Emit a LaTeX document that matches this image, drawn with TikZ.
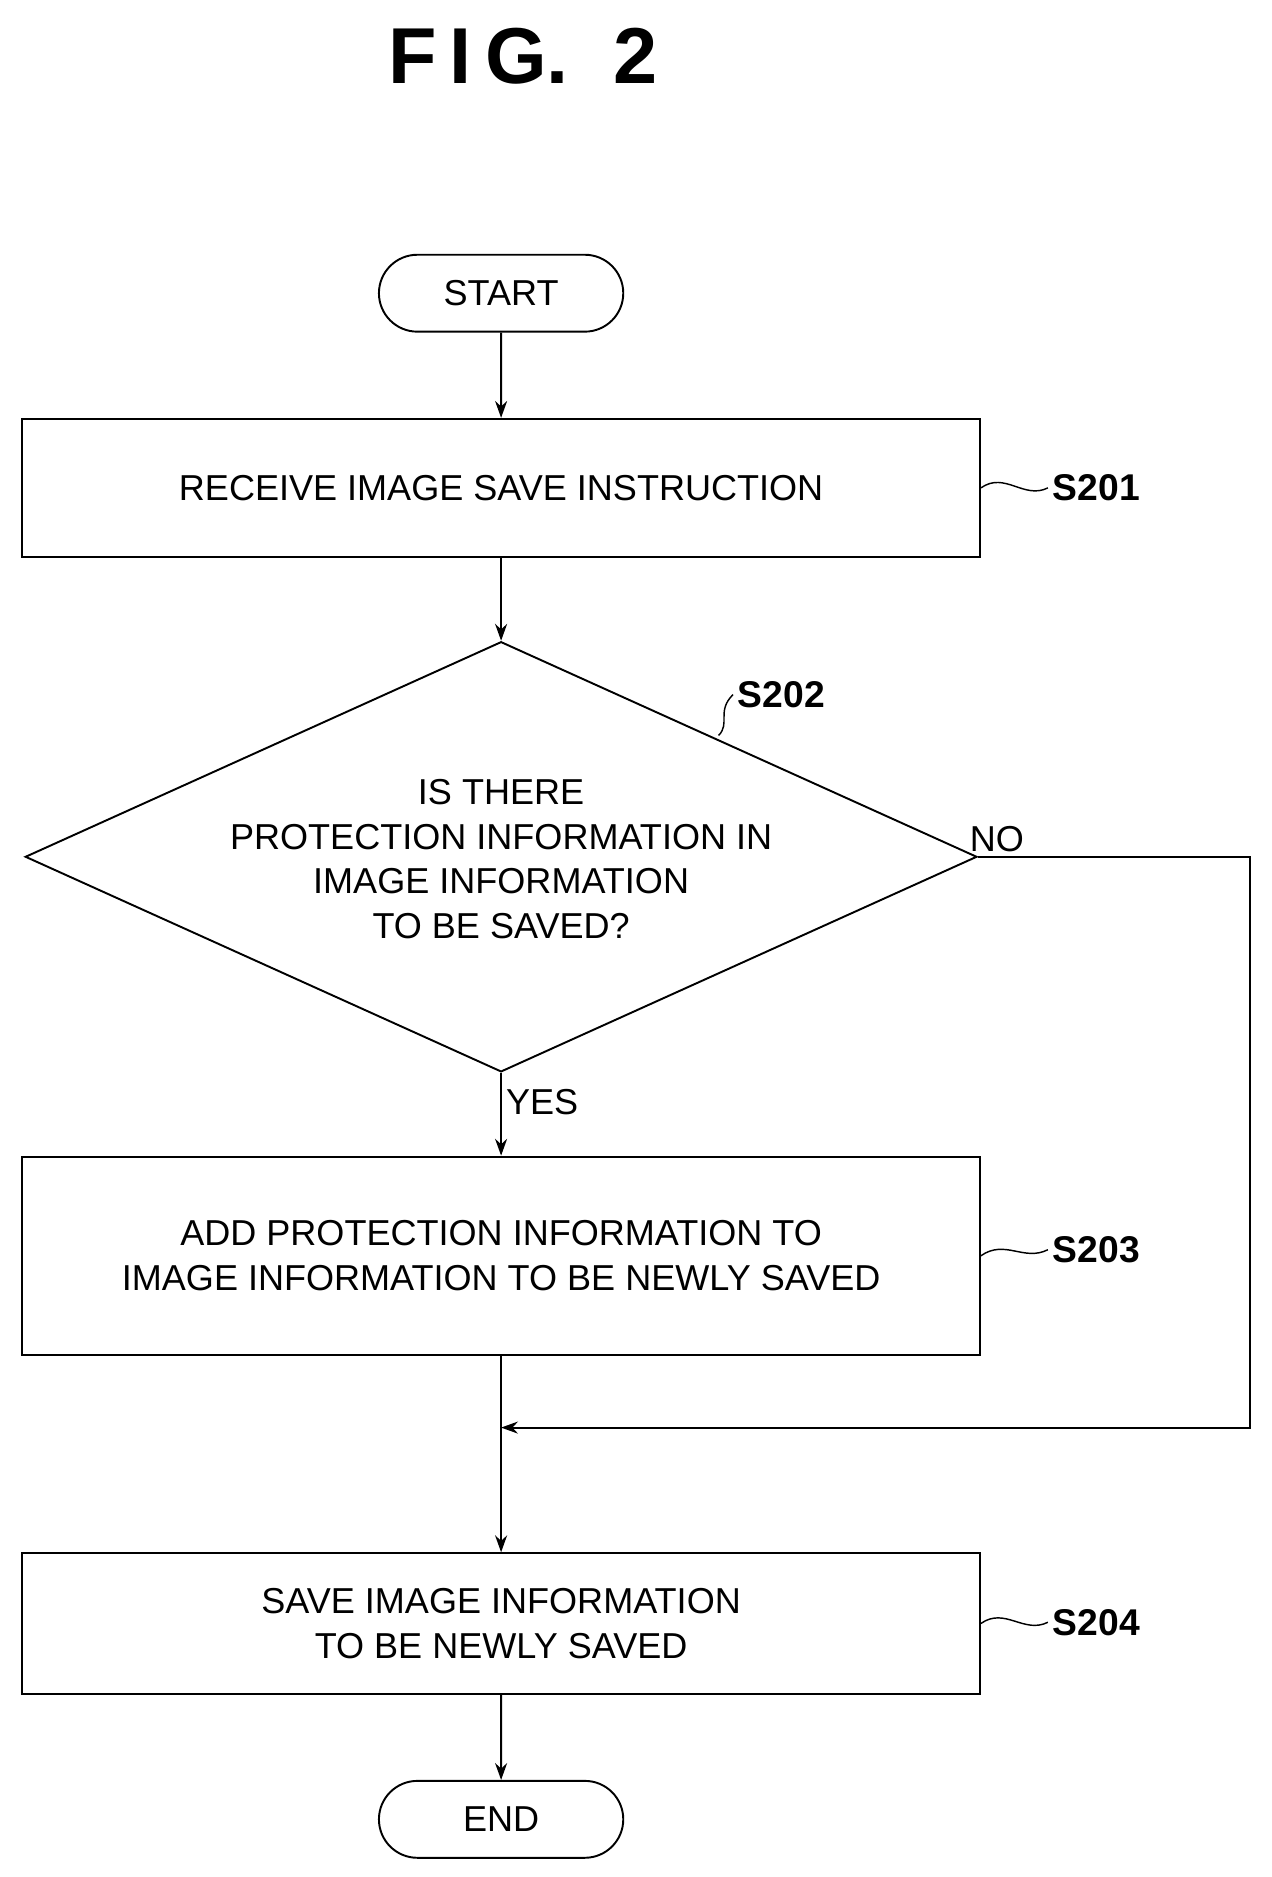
\documentclass[tikz,border=0pt]{standalone}
\usepackage{fontspec}
\setmainfont{Liberation Sans}
\usetikzlibrary{shapes.geometric,shapes.misc,arrows.meta}
\begin{document}
\begin{tikzpicture}[x=1pt,y=-1pt,line width=1.6pt,
    txt/.style={font=\fontsize{30}{37}\selectfont,align=center},
    process/.style={txt,draw,rectangle,minimum width=797pt},
    term/.style={txt,draw,rounded rectangle,minimum width=210pt,minimum height=64pt},
    lbl/.style={font=\fontsize{31}{37}\selectfont\bfseries,anchor=west},
    arr/.style={-{Stealth[length=14pt,width=10pt]}}]
    \useasboundingbox (0,0) rectangle (1058,1562);
    %title
    \node (title) at (435,47) {\fontsize{66}{70}\selectfont\bfseries F\,I\,G.\ \ 2};
    %flow nodes
    \node[term] (start) at (417,244) {START};
    \node[process,minimum height=115pt] (s201) at (417,406) {RECEIVE IMAGE SAVE INSTRUCTION};
    \node[txt,draw,diamond,aspect=2.22,minimum width=792pt,minimum height=358pt,inner sep=0pt] (s202) at (417,713) {};
    \node[txt] (q202) at (417,715) {IS THERE\\PROTECTION INFORMATION IN\\IMAGE INFORMATION\\TO BE SAVED?};
    \node[process,minimum height=165pt] (s203) at (417,1045) {ADD PROTECTION INFORMATION TO\\IMAGE INFORMATION TO BE NEWLY SAVED};
    \node[process,minimum height=117pt] (s204) at (417,1351) {SAVE IMAGE INFORMATION\\TO BE NEWLY SAVED};
    \node[term] (end) at (417,1514) {END};
    \coordinate (merge) at (417,1188);
    \coordinate (corner1) at (1040,713);
    \coordinate (corner2) at (1040,1188);
    %step labels
    \node[lbl] (l201) at (872,406) {S201};
    \node[lbl] (l202) at (610,578) {S202};
    \node[lbl] (l203) at (872,1040) {S203};
    \node[lbl] (l204) at (872,1350) {S204};
    \foreach \b/\l in {s201/l201,s203/l203,s204/l204}{
        \draw[line width=1.2pt] (\b.east) .. controls ++(20,-14) and ++(-20,10) .. (\l.west);
    }
    \draw[line width=1.2pt] (598,612) .. controls (608,602) and (596,592) .. (l202.west);
    %connectors
    \draw[arr] (start) -- (s201);
    \draw[arr] (s201) -- (s202);
    \draw[arr] (s202.south) -- node[pos=0.35,right,txt] {YES} (s203);
    \draw (s203) -- (merge);
    \draw[arr] (s202.east) -- node[pos=0.07,above,txt] {NO} (corner1) -- (corner2) -- (merge);
    \draw[arr] (merge) -- (s204);
    \draw[arr] (s204) -- (end);
\end{tikzpicture}
\end{document}
